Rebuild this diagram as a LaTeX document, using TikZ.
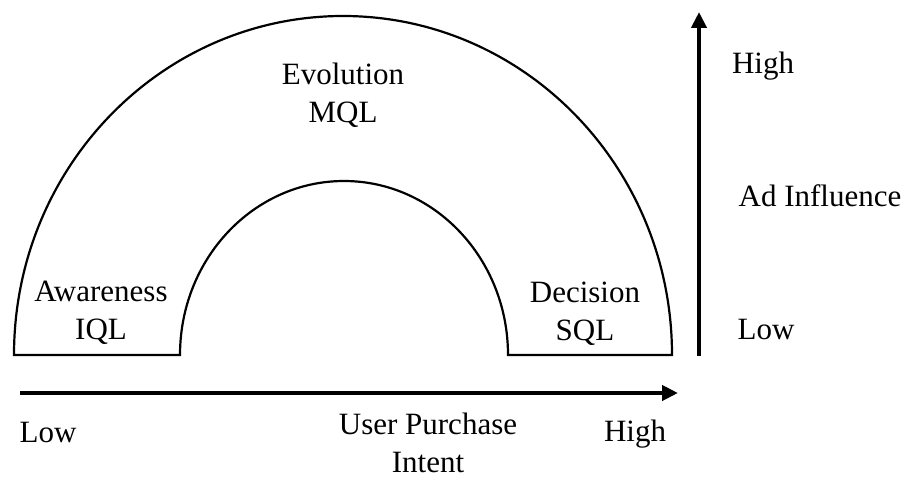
\documentclass[tikz,border=0pt]{standalone}
\usepackage{fontspec}
\setmainfont{Liberation Serif}
\usetikzlibrary{arrows.meta}

\begin{document}
\begin{tikzpicture}[x=1pt,y=1pt]
				\tikzstyle{every node}+=[inner sep=0pt, font=\fontsize{31}{38}\selectfont, align=center]
				\tikzstyle{axis}=[line width=4pt, -{Triangle[length=16pt,width=15pt]}]
				\useasboundingbox (0,0) rectangle (912,480);
				% funnel arch
				\draw [black, line width=2.2pt] (14,125) arc[start angle=180, end angle=0, x radius=329, y radius=339]
					-- (508,125) arc[start angle=0, end angle=180, x radius=164, y radius=174] -- cycle;
				\node (evolution) at (343,385) {Evolution\\MQL};
				\node (awareness) at (101,167) {Awareness\\IQL};
				\node (decision) at (585,166) {Decision\\SQL};
				% ad influence axis
				\coordinate (vlow) at (699,124);
				\coordinate (vhigh) at (699,468);
				\draw [axis] (vlow) -- (vhigh);
				\node (inhigh) at (763,414) {High};
				\node (influence) at (820,284) {Ad Influence};
				\node (inlow) at (766,151) {Low};
				% purchase intent axis
				\coordinate (hlow) at (20,87);
				\coordinate (hhigh) at (678,87);
				\draw [axis] (hlow) -- (hhigh);
				\node (intlow) at (48,48) {Low};
				\node (intent) at (428,37) {User Purchase\\Intent};
				\node (inthigh) at (635,46) {High};
\end{tikzpicture}
\end{document}
